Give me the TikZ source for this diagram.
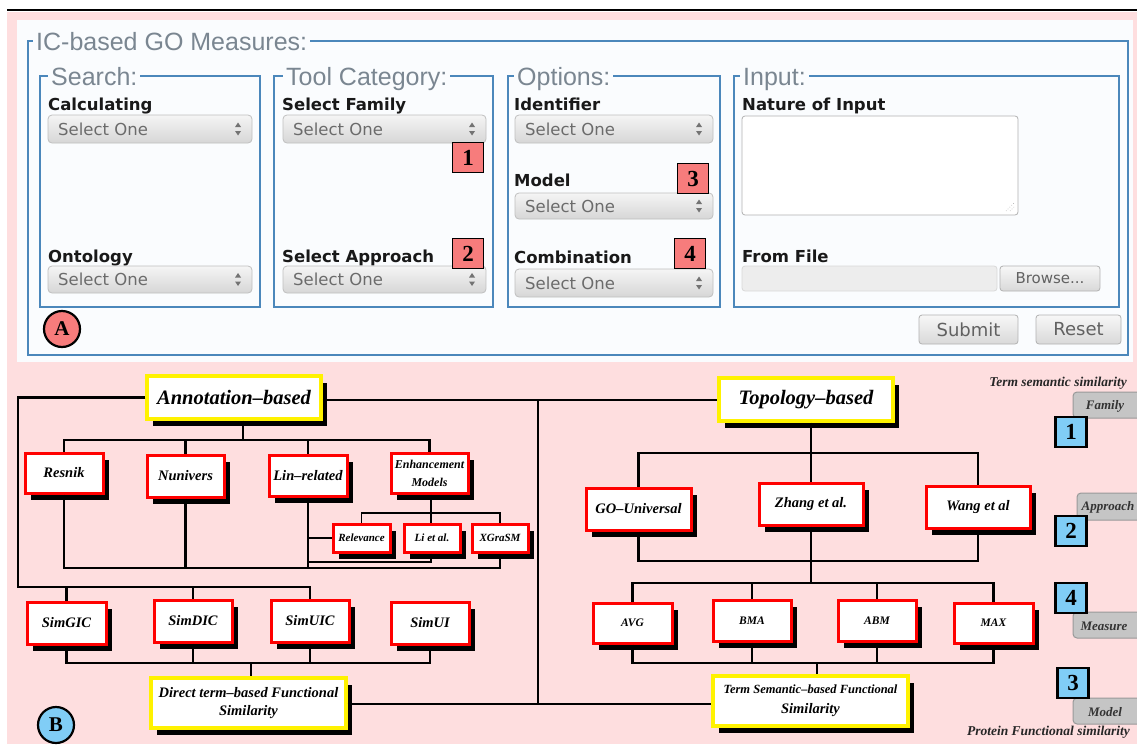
\documentclass[tikz,border=0pt]{standalone}
\usepackage{fontspec}
\setmainfont{Liberation Serif}
\newfontfamily\uisans{DejaVu Sans}
\newfontfamily\legsans{Liberation Sans}
\usetikzlibrary{shadows}
\definecolor{pinkbg}{HTML}{FEDEDF}
\definecolor{panelA}{HTML}{FAFCFE}
\definecolor{fsblue}{HTML}{4B87BB}
\definecolor{leggray}{HTML}{7A8691}
\definecolor{badgered}{HTML}{F77C7C}
\definecolor{lblue}{HTML}{80CDF6}
\definecolor{tabgray}{HTML}{C5C5C5}
\newcommand\fsz[2]{\fontsize{#1}{#2}\selectfont}
\newcommand\dgf{\bfseries\itshape}
\newcommand\SelBox[5]{%
  \draw[selframe] (#2,#3) rectangle (#4,#5);
  \node[seltext] (#1) at ({#2+10},{(#3+#5)/2}) {Select One};
  \fill[black!55] ({#4-17},{(#3+#5)/2-2}) -- ++(6,0) -- ++(-3,-4.5) -- cycle;
  \fill[black!55] ({#4-17},{(#3+#5)/2+2}) -- ++(6,0) -- ++(-3,4.5) -- cycle;
}
\begin{document}
\begin{tikzpicture}[x=1pt,y=-1pt,
  fsbox/.style={draw=fsblue, line width=2.6pt},
  fslegend/.style={anchor=west, fill=panelA, inner xsep=3pt, inner ysep=0pt, text height=18pt, text depth=0pt, text=leggray, font=\legsans\fsz{25}{28}},
  lbl/.style={anchor=west, inner sep=0pt, text height=12pt, text depth=0pt, font=\uisans\bfseries\fsz{16.5}{18}, text=black!90},
  selframe/.style={rounded corners=4pt, draw=black!25, top color=black!4, bottom color=black!16, line width=0.8pt},
  seltext/.style={anchor=west, inner sep=0pt, text height=12pt, text depth=0pt, font=\uisans\fsz{16.5}{18}, text=black!58},
  badge/.style={draw=black, line width=1.8pt, fill=badgered, minimum width=31pt, minimum height=30pt, inner sep=0pt, font=\bfseries\fsz{23}{23}},
  circA/.style={circle, draw=black, line width=2.2pt, fill=badgered, minimum size=36pt, inner sep=0pt, font=\bfseries\fsz{21}{21}},
  btn/.style={rounded corners=3pt, draw=black!30, top color=black!3, bottom color=black!15, line width=0.8pt},
  btntext/.style={inner sep=0pt, font=\uisans\fsz{18}{20}, text=black!62},
  rbox/.style={draw=red, line width=3pt, fill=white, inner sep=1pt, align=center, general shadow={fill=black, shadow xshift=5.5pt, shadow yshift=-6.5pt}},
  ybox/.style={rbox, draw=yellow, line width=3.2pt},
  conn/.style={line width=2.6pt, black},
  thinconn/.style={line width=1.9pt, black},
  tab/.style={draw=black!40, fill=tabgray, rounded corners=4pt, line width=1pt},
  tabtext/.style={inner sep=0pt, font=\dgf\fsz{13}{15}, text=black!80},
  bluesq/.style={draw=black, line width=2.4pt, fill=lblue, minimum width=31pt, minimum height=30pt, inner sep=0pt, font=\bfseries\fsz{23}{23}},
  note/.style={inner sep=0pt, font=\dgf\fsz{13.5}{15}, text=black!85}
]
\useasboundingbox (0,0) rectangle (1137,744);
\clip (0,0) rectangle (1137,744);
\fill[white] (0,0) rectangle (1137,744);
\fill[pinkbg] (7,12) rectangle (1137,744);
\draw[line width=2pt] (7,9.5) -- (1137,9.5);
\fill[panelA] (17,20) rectangle (1133,362);

% ---------------- Panel A ----------------
\draw[fsbox] (28,41) rectangle (1128,355);
\node[fslegend] (legIC) at (33,41) {IC-based GO Measures:};
\draw[fsbox] (40,76) rectangle (260,307);
\node[fslegend] (legS) at (48,76) {Search:};
\draw[fsbox] (274,76) rectangle (493,307);
\node[fslegend] (legT) at (283,76) {Tool Category:};
\draw[fsbox] (508,76) rectangle (720,307);
\node[fslegend] (legO) at (514,76) {Options:};
\draw[fsbox] (734,76) rectangle (1119,307);
\node[fslegend] (legI) at (740,76) {Input:};

\node[lbl] (lCalc) at (48,104) {Calculating};
\node[lbl] (lOnt) at (48,256) {Ontology};
\node[lbl] (lFam) at (282,104) {Select Family};
\node[lbl] (lApp) at (282,256) {Select Approach};
\node[lbl] (lId) at (514,104) {Identifier};
\node[lbl] (lMod) at (514,180) {Model};
\node[lbl] (lComb) at (514,257.5) {Combination};
\node[lbl] (lNat) at (742,104) {Nature of Input};
\node[lbl] (lFile) at (742,256) {From File};

\SelBox{sCalc}{48}{115}{252}{143}
\SelBox{sOnt}{48}{266}{252}{293}
\SelBox{sFam}{283}{115}{486}{143}
\SelBox{sApp}{283}{266}{486}{293}
\SelBox{sId}{515}{115}{713}{143}
\SelBox{sMod}{515}{193}{713}{219}
\SelBox{sComb}{515}{269}{713}{297}

\node[badge] (b1) at (468,157.5) {1};
\node[badge] (b2) at (468,253.5) {2};
\node[badge] (b3) at (693,178.5) {3};
\node[badge] (b4) at (690,253.5) {4};

\draw[rounded corners=3pt, fill=white, draw=black!30, line width=0.8pt] (742,116) rectangle (1018,215);
\foreach \k in {0,1,2} {\draw[black!35, line width=0.6pt, dotted] ({1014-4*\k},211) -- (1014,{211-4*\k});}
\draw[rounded corners=3pt, fill=black!7, draw=black!15, line width=0.8pt] (742,266) rectangle (997,291);
\draw[btn] (1000,266) rectangle (1100,291);
\node[btntext, font=\uisans\fsz{15}{17}] (browse) at (1050,278.5) {Browse...};
\draw[btn] (919,315) rectangle (1018,344);
\node[btntext] (submit) at (968.5,329.5) {Submit};
\draw[btn] (1036,315) rectangle (1121,344);
\node[btntext] (reset) at (1078.5,329.5) {Reset};

\node[circA] (cA) at (62,329) {A};

% ---------------- Panel B ----------------
\node[ybox, minimum width=174pt, minimum height=43pt, font=\dgf\fsz{20.5}{22}] (ann) at (234,397.5) {Annotation–based};
\node[ybox, minimum width=174pt, minimum height=43pt, font=\dgf\fsz{20.5}{22}] (top) at (806,399.5) {Topology–based};

\node[rbox, minimum width=78pt, minimum height=40pt, font=\dgf\fsz{14.5}{17}] (res) at (64,473) {Resnik};
\node[rbox, minimum width=77pt, minimum height=42pt, font=\dgf\fsz{14.5}{17}] (nun) at (185.5,476) {Nunivers};
\node[rbox, minimum width=78pt, minimum height=41pt, font=\dgf\fsz{14.5}{17}] (lin) at (308,475.5) {Lin–related};
\node[rbox, minimum width=77pt, minimum height=40pt, font=\dgf\fsz{12}{18}] (enh) at (429.5,473) {Enhancement\\Models};
\node[rbox, minimum width=57pt, minimum height=28pt, font=\dgf\fsz{11}{13}] (rel) at (361.5,538) {Relevance};
\node[rbox, minimum width=56pt, minimum height=28pt, font=\dgf\fsz{11}{13}] (li) at (432,538) {Li et al.};
\node[rbox, minimum width=56pt, minimum height=28pt, font=\dgf\fsz{11}{13}] (xgr) at (500,538) {XGraSM};

\node[rbox, minimum width=79pt, minimum height=42pt, font=\dgf\fsz{14.5}{17}] (sgic) at (66.5,623) {SimGIC};
\node[rbox, minimum width=78pt, minimum height=42pt, font=\dgf\fsz{14.5}{17}] (sdic) at (193,621) {SimDIC};
\node[rbox, minimum width=78pt, minimum height=42pt, font=\dgf\fsz{14.5}{17}] (suic) at (310,621) {SimUIC};
\node[rbox, minimum width=78pt, minimum height=42pt, font=\dgf\fsz{14.5}{17}] (sui) at (430,623) {SimUI};
\node[ybox, minimum width=195pt, minimum height=50pt, font=\dgf\fsz{14.5}{18}] (dir) at (248.5,703) {Direct term–based Functional\\Similarity};

\node[rbox, minimum width=105pt, minimum height=42pt, font=\dgf\fsz{14.5}{17}] (gou) at (638.5,509) {GO–Universal};
\node[rbox, minimum width=104pt, minimum height=42pt, font=\dgf\fsz{14.5}{17}] (zh) at (811,504) {Zhang et al.};
\node[rbox, minimum width=104pt, minimum height=42pt, font=\dgf\fsz{14.5}{17}] (wa) at (978,507) {Wang et al};

\node[rbox, minimum width=79pt, minimum height=40pt, font=\dgf\fsz{11.5}{13}] (avg) at (632.5,623) {AVG};
\node[rbox, minimum width=78pt, minimum height=41pt, font=\dgf\fsz{11.5}{13}] (bma) at (752,620.5) {BMA};
\node[rbox, minimum width=78pt, minimum height=41pt, font=\dgf\fsz{11.5}{13}] (abm) at (877,620.5) {ABM};
\node[rbox, minimum width=79pt, minimum height=40pt, font=\dgf\fsz{11.5}{13}] (max) at (993.5,623) {MAX};
\node[ybox, minimum width=195pt, minimum height=50pt, font=\dgf\fsz{12.5}{20}] (tsf) at (810.5,701) {Term Semantic–based Functional\\{\fsz{14.5}{18}Similarity}};

\node[circA, fill=lblue] (cB) at (56,725) {B};

% connectors: annotation tree
\coordinate (ar) at (243,440);
\draw[conn] (ann.south -| ar) -- (ar);
\draw[conn] (res.north) |- (ar) -| (enh.north);
\draw[conn] (nun.north) -- (nun.north |- ar);
\draw[conn] (lin.north) -- (lin.north |- ar);
\coordinate (er) at (431,513);
\draw[thinconn] (enh.south -| er) -- (er);
\draw[thinconn] (rel.north) |- (er) -| (xgr.north);
\draw[thinconn] (li.north -| er) -- (er);
\coordinate (br) at (305,568);
\draw[conn] (res.south) |- (xgr.south |- br) -- (xgr.south);
\draw[conn] (nun.south) -- (nun.south |- br);
\draw[conn] (lin.south) -- (lin.south |- br);
\draw[thinconn] (lin.south |- rel.west) -- (rel.west);
\coordinate (lr) at (0,562);
\draw[thinconn] (li.south -| er) |- (lin.south |- lr);

% left loop to Sim measures
\coordinate (lc) at (18,587);
\draw[conn] (ann.west) -| (lc) -| (suic.north);
\draw[conn] (sgic.north) -- (sgic.north |- lc);
\draw[conn] (sdic.north) -- (sdic.north |- lc);
\coordinate (sr) at (251,663);
\draw[conn] (sgic.south) |- (sui.south |- sr) -- (sui.south);
\draw[conn] (sdic.south) -- (sdic.south |- sr);
\draw[conn] (suic.south) -- (suic.south |- sr);
\draw[conn] (sr) -- (dir.north -| sr);

% middle links
\coordinate (mv) at (538,400);
\coordinate (mb) at (538,704);
\draw[conn] (ann.east |- mv) -- (top.west |- mv);
\draw[conn] (mv) -- (mb);
\draw[conn] (dir.east |- mb) -- (tsf.west |- mb);

% topology tree
\coordinate (tr) at (811,453);
\draw[conn] (top.south -| tr) -- (tr);
\draw[conn] (gou.north) |- (tr) -| (wa.north);
\draw[conn] (zh.north) -- (zh.north |- tr);
\coordinate (tb) at (811,561);
\draw[conn] (gou.south) |- (wa.south |- tb) -- (wa.south);
\coordinate (tc) at (811,583);
\draw[conn] (zh.south) -- (tc);
\draw[conn] (avg.north) |- (tc) -| (max.north);
\draw[conn] (bma.north) -- (bma.north |- tc);
\draw[conn] (abm.north) -- (abm.north |- tc);
\coordinate (mr) at (817,663);
\draw[conn] (avg.south) |- (max.south |- mr) -- (max.south);
\draw[conn] (bma.south) -- (bma.south |- mr);
\draw[conn] (abm.south) -- (abm.south |- mr);
\draw[conn] (mr) -- (tsf.north -| mr);

% right legend
\node[note, anchor=east] (tss) at (1127,383) {Term semantic similarity};
\node[note, anchor=east] (pfs) at (1130,732) {Protein Functional similarity};
\draw[tab] (1073,392) rectangle (1150,418);
\node[tabtext] (tFam) at (1105,406) {Family};
\draw[tab] (1077,493) rectangle (1150,520);
\node[tabtext] (tApp) at (1108,507) {Approach};
\draw[tab] (1073,612) rectangle (1150,638);
\node[tabtext] (tMea) at (1104,626) {Measure};
\draw[tab] (1073,698) rectangle (1150,724);
\node[tabtext] (tMod) at (1105,712) {Model};
\node[bluesq] (n1) at (1071,432) {1};
\node[bluesq] (n2) at (1071,531) {2};
\node[bluesq] (n4) at (1071,598) {4};
\node[bluesq] (n3) at (1073,683) {3};
\end{tikzpicture}
\end{document}
